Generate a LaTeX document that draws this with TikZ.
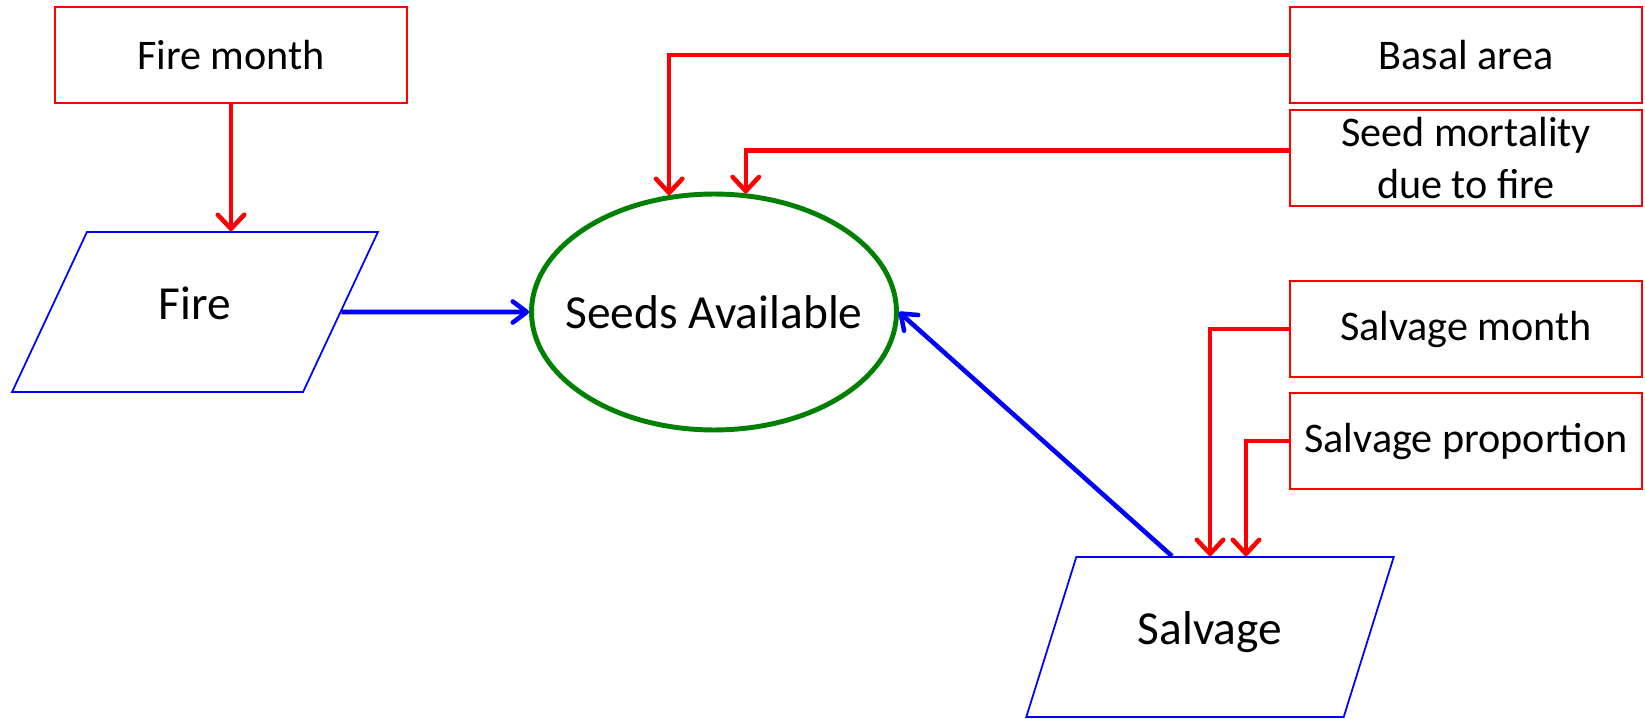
\documentclass[tikz,border=0pt]{standalone}
\usepackage{fontspec}
\setmainfont{Carlito}
\usetikzlibrary{arrows.meta, positioning, shapes.geometric}

\begin{document}
\begin{tikzpicture}[x=0.02cm, y=-0.02cm,
        factor/.style={draw=red, line width=0.8pt, minimum width=7.04cm, minimum height=1.92cm, align=center, font=\fontsize{24}{30}\selectfont},
        process/.style={draw=blue, line width=1pt, trapezium, trapezium left angle=65, trapezium right angle=115, trapezium stretches=true, minimum width=7.36cm, minimum height=3.2cm, text depth=0.36cm, font=\fontsize{27}{32}\selectfont},
        redline/.style={red, line width=2.6pt, -{Straight Barb[length=8pt, width=15pt, round]}},
        blueline/.style={blue, line width=2.6pt, -{Straight Barb[length=8pt, width=12pt, round]}}]
        \useasboundingbox (0,0) rectangle (1645,719);

        \node[draw=green!50!black, line width=2.8pt, ellipse, minimum width=7.3cm, minimum height=4.72cm,
            label={[font=\fontsize{27}{32}\selectfont]center:Seeds Available}] (seeds) at (714,312) {};

        \node[process] (fire) at (195,312) {Fire};
        \node[process] (salvage) at (1210,637) {Salvage};

        \node[factor] (firemonth) at (231,55) {Fire month};
        \node[factor] (basal) at (1466,55) {Basal area};
        \node[factor] (seedmort) at (1466,158) {Seed mortality\\due to fire};
        \node[factor] (salvmonth) at (1466,329) {Salvage month};
        \node[factor] (salvprop) at (1466,441) {Salvage proportion};

        \draw[redline] (firemonth.south) -- (firemonth.south |- fire.north);
        \draw[redline] (basal.west) -| (seeds.111);
        \draw[redline] ([yshift=0.15cm]seedmort.west) -| (seeds.75);
        \draw[redline] (salvmonth.west) -| (salvage.north);
        \draw[redline] (salvprop.west) -| ([xshift=0.72cm]salvage.north);

        \draw[blueline] (fire.east) -- (seeds.west);
        \draw[blueline] ([xshift=-0.76cm]salvage.north) -- (seeds.east);
    \end{tikzpicture}
\end{document}
